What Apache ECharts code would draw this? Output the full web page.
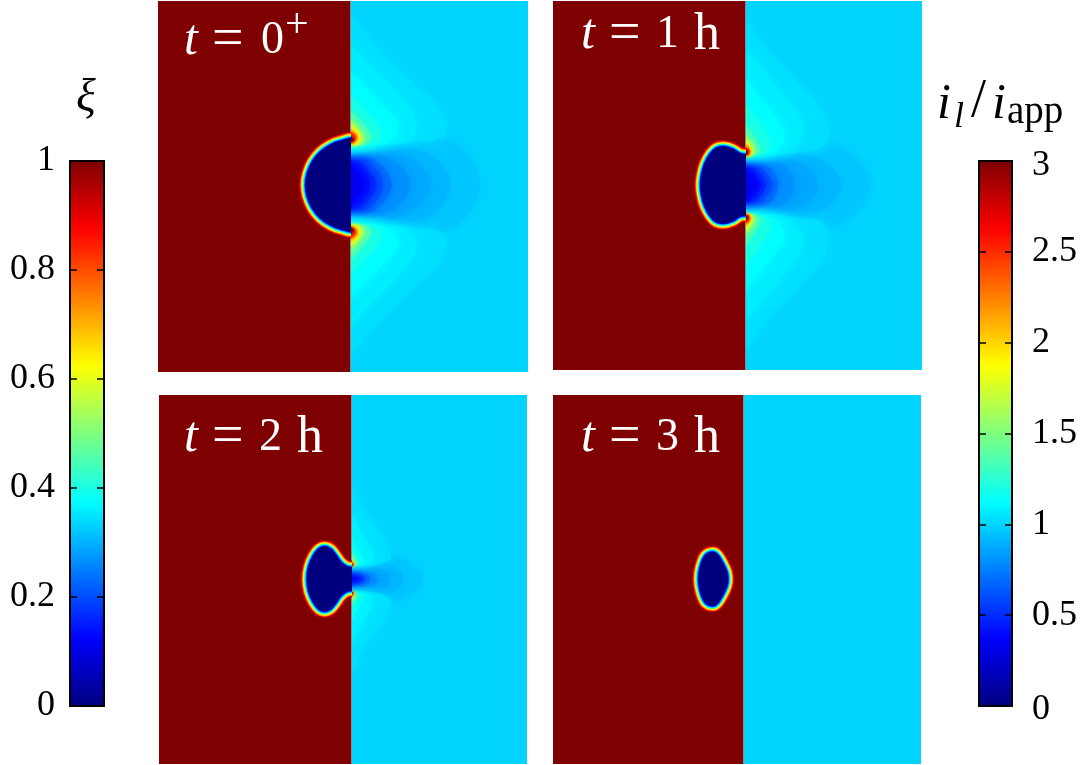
<!DOCTYPE html>
<html>
<head>
<meta charset="utf-8">
<title>Pit evolution</title>
<script src="https://cdn.jsdelivr.net/npm/echarts@6/dist/echarts.min.js"></script>
<style>
html, body { margin: 0; padding: 0; background: #fff; }
#main { width: 1081px; height: 765px; }
</style>
</head>
<body>
<div id="main"></div>
<script>
// colour scale shared by both colorbars
const jet = ['#00007f', '#0000ff', '#007fff', '#00ffff', '#7fff7f', '#ffff00', '#ff7f00', '#ff0000', '#7f0000'];
const xiTicks = [0, 0.2, 0.4, 0.6, 0.8, 1];
const currentTicks = [0, 0.5, 1, 1.5, 2, 2.5, 3];
const panelTimes = ['0', '1', '2', '3'];

// order parameter levels across the pit wall, outermost first
const wallLevels = [0.95, 0.87, 0.75, 0.63, 0.5, 0.37, 0.25, 0.12, 0];
const farCurrent = 1;

// pit outline, upper half only (x from interface, y from pit axis)
const pit1 = [[3, 45], [-10, 44], [-20, 40], [-30, 33], [-38, 23], [-43, 11], [-44.5, 0]];
const pit2 = [[3, 29], [-5, 31.5], [-12, 36], [-21, 38.5], [-29, 37], [-35, 31], [-40.5, 21], [-43.5, 10], [-44.5, 0]];
const pit3 = [[3, 10.5], [-4, 12.5], [-10, 17], [-15, 24], [-20, 30], [-26, 32.5], [-32, 30.5], [-38, 23], [-42.5, 12], [-44, 0]];
const pit4 = [[-15, 0], [-16, 7], [-19.5, 15], [-25, 24], [-30, 27], [-38, 23.5], [-43, 11.5], [-44.5, 0]];

// current below i_app in front of the pit mouth, upper half of each contour
const lowLevels1 = [0.96, 0.915, 0.87, 0.8, 0.7, 0.6, 0.5, 0.42, 0.36, 0.31];
const lowShapes1 = [
  [[0, 34.5], [30, 48], [70, 52], [110, 38], [130, 0]],
  [[0, 34], [30, 40], [60, 38], [88, 24], [100, 0]],
  [[0, 33.5], [25, 36], [52, 31], [72, 17], [80, 0]],
  [[0, 33], [20, 33], [42, 25], [55, 13], [60, 0]],
  [[0, 31.5], [17, 29], [31, 20], [39, 9], [42, 0]],
  [[0, 29], [15, 26], [26, 16], [31, 8], [33, 0]],
  [[0, 26], [12, 22], [20, 13], [25, 6], [26, 0]],
  [[0, 23], [9, 19], [16, 11], [20, 0]],
  [[0, 19], [7, 13], [12, 6], [14, 0]],
  [[0, 13], [4, 9], [7, 4], [8, 0]]
];
const lowLevels2 = [0.96, 0.915, 0.87, 0.8, 0.7, 0.6, 0.5, 0.42, 0.36, 0.31];
const lowShapes2 = [
  [[0, 29], [30, 42], [72, 44], [108, 30], [126, 0]],
  [[0, 28], [28, 34], [56, 32], [84, 20], [96, 0]],
  [[0, 27.5], [22, 30], [46, 26], [65, 15], [73, 0]],
  [[0, 27], [18, 28], [36, 21], [46, 11], [50, 0]],
  [[0, 26], [14, 24], [26, 16], [32, 6], [33, 0]],
  [[0, 24.5], [12, 21], [21, 12], [27, 0]],
  [[0, 22], [10, 16], [17, 9], [21, 0]],
  [[0, 19], [8, 13], [13, 7], [16, 0]],
  [[0, 15], [6, 10], [10, 5], [12, 0]],
  [[0, 10], [4, 7], [6, 3], [7, 0]]
];
const lowLevels3 = [0.96, 0.915, 0.87, 0.8, 0.7, 0.56, 0.45, 0.36];
const lowShapes3 = [
  [[0, 12.5], [25, 24], [52, 20], [68, 9], [72, 0]],
  [[0, 12], [20, 18], [40, 14], [50, 6], [52, 0]],
  [[0, 11.5], [15, 14], [30, 10], [38, 4], [39, 0]],
  [[0, 11], [12, 12], [22, 8], [27, 0]],
  [[0, 10.5], [9, 10], [16, 6], [19, 0]],
  [[0, 9.5], [7, 7.5], [11, 4], [14, 0]],
  [[0, 8], [5, 6], [8, 3], [10, 0]],
  [[0, 6], [3, 4.5], [5, 2], [6, 0]]
];

// current above i_app at the pit corner, upper lobe (lower lobe is its mirror)
const highLevels1 = [1.03, 1.07, 1.12, 1.2, 1.35, 1.55, 1.8, 2.1, 2.5, 3];
const highShapes1 = [
  [[0, 170], [25, 140], [60, 105], [90, 75], [95, 50], [60, 42], [25, 38], [0, 36]],
  [[0, 140], [20, 120], [45, 95], [65, 68], [62, 47], [30, 40], [0, 36.5]],
  [[0, 112], [15, 98], [33, 80], [48, 60], [42, 45], [20, 39], [0, 37]],
  [[0, 88], [10, 78], [22, 65], [31, 50], [26, 42], [10, 38.5], [0, 37.5]],
  [[0, 74], [8, 67], [16, 57], [21, 48], [16, 41], [0, 38]],
  [[0, 66], [7, 60], [13, 52], [15, 47], [12, 41], [0, 39]],
  [[0, 60], [6, 56], [10, 50], [11, 46], [8, 41.5], [0, 40]],
  [[0, 56], [5, 53], [8, 49], [8, 46], [5, 42], [0, 41]],
  [[0, 53], [4, 51], [6, 48], [5.5, 45], [3, 43], [0, 42.5]],
  [[0, 48.5], [2.5, 47.5], [3.8, 45.5], [2.5, 43.5], [0, 42.5]]
];
const highLevels2 = [1.03, 1.07, 1.12, 1.2, 1.35, 1.55, 1.8, 2.1, 2.5, 3];
const highShapes2 = [
  [[0, 165], [22, 135], [55, 100], [80, 70], [80, 40], [50, 32], [20, 28.5], [0, 28]],
  [[0, 135], [18, 115], [40, 88], [58, 60], [50, 38], [25, 30], [0, 28.5]],
  [[0, 105], [13, 90], [28, 72], [40, 50], [32, 35], [15, 30], [0, 29]],
  [[0, 80], [9, 68], [19, 53], [25, 40], [18, 31], [0, 29.5]],
  [[0, 60], [6, 52], [12, 43], [15, 34], [9, 29.5], [0, 29]],
  [[0, 50], [5, 45], [9, 39], [10, 33], [6, 29], [0, 28.5]],
  [[0, 45], [4, 41], [7, 36], [7, 32], [4, 29], [0, 28.5]],
  [[0, 41], [4, 38], [6, 34], [4.5, 30], [0, 29]],
  [[0, 38], [3.5, 36], [4.5, 33], [3, 30], [0, 29.5]],
  [[0, 36], [2.5, 34.5], [3, 33], [2, 31], [0, 30.5]]
];
const highLevels3 = [1.03, 1.08, 1.15, 1.3, 1.7, 2.3, 3];
const highShapes3 = [
  [[0, 95], [12, 70], [30, 45], [40, 22], [25, 14], [0, 12.5]],
  [[0, 65], [8, 50], [18, 33], [22, 19], [12, 14], [0, 13]],
  [[0, 42], [5, 32], [11, 22], [12, 16], [6, 13.5], [0, 13]],
  [[0, 28], [4, 23], [7, 18], [6, 14.5], [3, 13], [0, 13]],
  [[0, 21], [2.5, 18.5], [4, 15.5], [3, 13], [0, 12.5]],
  [[0, 18], [2, 16.5], [3, 14.5], [2, 12.8], [0, 12.5]],
  [[0, 15.5], [1.3, 15], [1.8, 14], [1.2, 13], [0, 12.5]]
];

const wallWidths = [13.2, 11.6, 10, 8.4, 6.6, 4.8, 3, 1.4, 0];
const serif = '"Liberation Serif", "Times New Roman", serif';

// left/right edge, interface, top, bottom of each panel in the page
const panels = [
  { l: 158, m: 350, r: 528, t: 1, b: 372, cy: 185, pit: pit1, low: lowShapes1, lowL: lowLevels1, high: highShapes1, highL: highLevels1 },
  { l: 553, m: 745, r: 922, t: 1, b: 370, cy: 185, pit: pit2, low: lowShapes2, lowL: lowLevels2, high: highShapes2, highL: highLevels2 },
  { l: 159, m: 351, r: 527, t: 395, b: 764, cy: 579, pit: pit3, low: lowShapes3, lowL: lowLevels3, high: highShapes3, highL: highLevels3 },
  { l: 553, m: 743, r: 921, t: 395, b: 764, cy: 579, pit: pit4, low: [], lowL: [], high: [], highL: [] }
];

function mirrorHalf(half) {
  // half runs from the interface to the axis, copy it below the axis
  let lower = half.slice(0, -1).reverse().map(p => [p[0], -p[1]]);
  if (half[0][1] === 0) lower = lower.slice(0, -1);
  return half.concat(lower);
}
function closeBehind(pts) {
  // push the closing edge behind the interface so the clip hides it
  return [[-10, pts[0][1]]].concat(pts, [[-10, pts[pts.length - 1][1]]]);
}
function flipY(pts) { return pts.map(p => [p[0], -p[1]]); }

function polyItem(api, pts, fill, lineWidth, blur) {
  return {
    type: 'polygon',
    shape: { points: pts.map(p => api.coord(p)), smooth: 0.35, smoothConstraint: false },
    style: {
      fill: fill,
      stroke: lineWidth ? fill : null,
      lineWidth: lineWidth,
      lineJoin: 'round',
      shadowBlur: blur,
      shadowColor: blur ? fill : null
    }
  };
}
function rectItem(api, x0, x1, y0, y1, fill) {
  const a = api.coord([x0, y1]);
  const b = api.coord([x1, y0]);
  return { type: 'rect', shape: { x: a[0], y: a[1], width: b[0] - a[0], height: b[1] - a[1] }, style: { fill: fill } };
}

const grids = [], xAxes = [], yAxes = [], series = [];
function addGrid(left, right, top, bottom, xmin, xmax, ymin, ymax) {
  grids.push({ left: left, top: top, width: right - left, height: bottom - top });
  const idx = grids.length - 1;
  xAxes.push({ gridIndex: idx, type: 'value', min: xmin, max: xmax, show: false });
  yAxes.push({ gridIndex: idx, type: 'value', min: ymin, max: ymax, show: false });
  return idx;
}

// left half of each panel: order parameter, the interface pixel runs under the pit wall
panels.forEach(function (p) {
  const gi = addGrid(p.l, p.m + 1, p.t, p.b, p.l - p.m, 1, p.cy - p.b, p.cy - p.t);
  const outline = mirrorHalf(p.pit);
  const data = [[1, -1]].concat(wallLevels.map((v, i) => [v, i]));
  series.push({
    type: 'custom', xAxisIndex: gi, yAxisIndex: gi, clip: true, silent: true, animation: false,
    dimensions: ['value', 'index'],
    encode: { value: 0 },
    renderItem: function (params, api) {
      const i = api.value(1);
      const c = api.visual('color');
      if (i < 0) {
        return {
          type: 'group',
          children: [
            rectItem(api, p.l - p.m, 0, p.cy - p.b, p.cy - p.t, c),
            rectItem(api, 0, 1, p.cy - p.b, p.cy - p.t, '#8c8c84')
          ]
        };
      }
      return polyItem(api, outline, c, wallWidths[i], 0);
    },
    data: data
  });
});

// right half of each panel: current density, filled contours from far field inward
panels.forEach(function (p) {
  const gi = addGrid(p.m + 1, p.r, p.t, p.b, 1, p.r - p.m, p.cy - p.b, p.cy - p.t);
  const shapes = [];
  p.low.forEach(function (s, i) {
    shapes.push({ v: p.lowL[i], pts: closeBehind(mirrorHalf(s)), blur: p.lowL[i] >= 0.8 ? 12 : 6 });
  });
  p.high.forEach(function (s, i) {
    const blur = p.highL[i] <= 1.2 ? 12 : 3;
    shapes.push({ v: p.highL[i], pts: closeBehind(s), blur: blur });
    shapes.push({ v: p.highL[i], pts: closeBehind(flipY(s)), blur: blur });
  });
  const data = [[farCurrent, -1]].concat(shapes.map((s, i) => [s.v, i]));
  series.push({
    type: 'custom', xAxisIndex: gi, yAxisIndex: gi, clip: true, silent: true, animation: false,
    dimensions: ['value', 'index'],
    encode: { value: 0 },
    renderItem: function (params, api) {
      const i = api.value(1);
      const c = api.visual('color');
      if (i < 0) return rectItem(api, 1, p.r - p.m, p.cy - p.b, p.cy - p.t, c);
      return polyItem(api, shapes[i].pts, c, 0, shapes[i].blur);
    },
    data: data
  });
});

// colorbars: the gradient is the visualMap, the frame and ticks are axes on top of it
function addBar(left, right, top, bottom, ticks, labelSide, margin, pad, format, rich) {
  grids.push({ left: left, top: top, width: right - left, height: bottom - top, show: true, z: 6, borderColor: '#000', borderWidth: 2, backgroundColor: 'transparent' });
  const idx = grids.length - 1;
  xAxes.push({ gridIndex: idx, type: 'value', min: 0, max: 1, show: false });
  ['left', 'right'].forEach(function (side) {
    yAxes.push({
      gridIndex: idx, type: 'value', position: side, z: 7,
      min: ticks[0], max: ticks[ticks.length - 1],
      splitLine: { show: false },
      axisLine: { show: false },
      axisTick: { show: true, inside: true, length: 7, customValues: ticks, lineStyle: { color: '#000', width: 1.5 } },
      axisLabel: {
        show: side === labelSide, margin: margin, customValues: ticks, color: '#000',
        fontFamily: serif, fontSize: 36, padding: pad,
        formatter: format, rich: rich
      }
    });
  });
}
addBar(70, 104, 161, 706, xiTicks, 'left', 15, [0, 0, 6, 0], function (v) { return String(v); });
// the end labels of this bar sit a little lower than their ticks
addBar(979, 1012, 161, 706, currentTicks, 'right', 20, 0, function (v) {
  if (v === 3) return '{top|3}';
  if (v === 0) return '{low|0}';
  return String(v);
}, {
  top: { fontFamily: serif, fontSize: 36, color: '#000', padding: [9, 0, 0, 0] },
  low: { fontFamily: serif, fontSize: 36, color: '#000', padding: [7, 0, 0, 0] }
});

function label(x, y, text, size, italic, color) {
  return {
    type: 'text', x: x, y: y, silent: true, z: 20,
    style: { text: text, fill: color || '#000', font: (italic ? 'italic ' : '') + size + 'px ' + serif, verticalAlign: 'middle' }
  };
}
const elements = [
  label(76, 99, 'ξ', 46, true),
  label(937, 105, 'i', 50, true),
  label(954, 118, 'l', 36, true),
  label(971, 102, '/', 54, false),
  label(992, 105, 'i', 50, true),
  label(1007, 113, 'app', 39, false)
];
// panel time stamps
const stampX = [184, 581, 184, 581];
const stampY = [41, 35, 438, 438];
panelTimes.forEach(function (t, n) {
  const x = stampX[n], y = stampY[n];
  elements.push(label(x, y, 't', 50, true, '#fff'));
  elements.push(label(x + 28, y, '=', 56, false, '#fff'));
  if (n === 0) {
    elements.push(label(x + 77, y, t, 46, false, '#fff'));
    elements.push(label(x + 101, y - 15, '+', 42, false, '#fff'));
  } else {
    elements.push(label(x + 75, y, t, 46, false, '#fff'));
    elements.push(label(x + 113, y, 'h', 52, false, '#fff'));
  }
});

const chart = echarts.init(document.getElementById('main'));
chart.setOption({
  animation: false,
  backgroundColor: '#fff',
  grid: grids,
  xAxis: xAxes,
  yAxis: yAxes,
  visualMap: [
    {
      type: 'continuous', min: 0, max: 1, seriesIndex: [0, 1, 2, 3], dimension: 0,
      left: 70, top: 161, itemWidth: 34, itemHeight: 545, padding: 0,
      calculable: false, hoverLink: false, showLabel: false, text: null,
      inRange: { color: jet }
    },
    {
      type: 'continuous', min: 0, max: 3, seriesIndex: [4, 5, 6, 7], dimension: 0,
      left: 979, top: 161, itemWidth: 33, itemHeight: 545, padding: 0,
      calculable: false, hoverLink: false, showLabel: false, text: null,
      inRange: { color: jet }
    }
  ],
  series: series,
  graphic: { elements: elements }
});
</script>
</body>
</html>
